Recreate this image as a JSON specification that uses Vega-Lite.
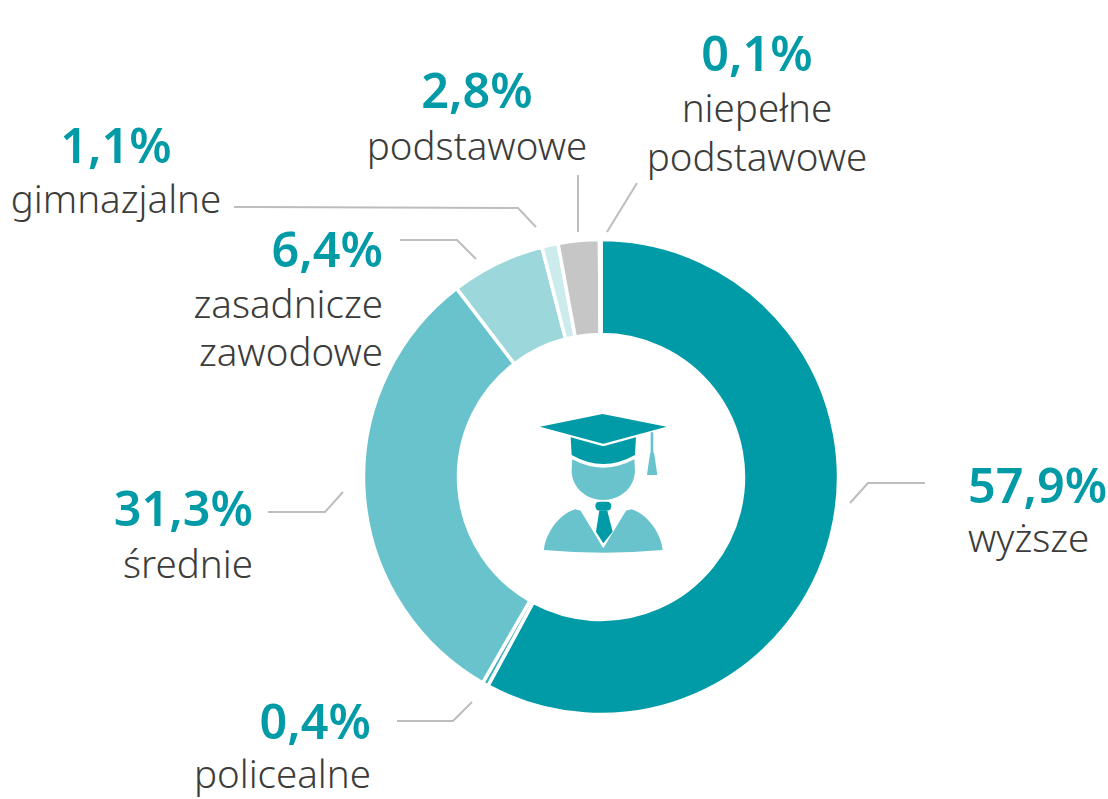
{
"$schema":"https://vega.github.io/schema/vega-lite/v6.json",
"width":1108,"height":799,"padding":0,"autosize":{"type":"none"},"background":"white",
"view":{"stroke":null},
"datasets":{
"shares":[
{"kategoria":"wyższe","udzial":57.9,"kolejnosc":1},
{"kategoria":"policealne","udzial":0.4,"kolejnosc":2},
{"kategoria":"średnie","udzial":31.3,"kolejnosc":3},
{"kategoria":"zasadnicze zawodowe","udzial":6.4,"kolejnosc":4},
{"kategoria":"gimnazjalne","udzial":1.1,"kolejnosc":5},
{"kategoria":"podstawowe","udzial":2.8,"kolejnosc":6},
{"kategoria":"niepełne podstawowe","udzial":0.1,"kolejnosc":7}],
"labels":[
{"t":"57,9%","k":"p","a":"start","px":968,"py":503},
{"t":"wyższe","k":"n","a":"start","px":968,"py":552},
{"t":"31,3%","k":"p","a":"end","px":253,"py":526},
{"t":"średnie","k":"n","a":"end","px":253,"py":578},
{"t":"0,4%","k":"p","a":"end","px":371,"py":739},
{"t":"policealne","k":"n","a":"end","px":371,"py":788},
{"t":"6,4%","k":"p","a":"end","px":383,"py":267},
{"t":"zasadnicze","k":"n","a":"end","px":383,"py":318},
{"t":"zawodowe","k":"n","a":"end","px":383,"py":366},
{"t":"1,1%","k":"p","a":"middle","px":116,"py":163},
{"t":"gimnazjalne","k":"n","a":"middle","px":116,"py":213},
{"t":"2,8%","k":"p","a":"middle","px":477,"py":108},
{"t":"podstawowe","k":"n","a":"middle","px":477,"py":160},
{"t":"0,1%","k":"p","a":"middle","px":757,"py":71},
{"t":"niepełne","k":"n","a":"middle","px":757,"py":122},
{"t":"podstawowe","k":"n","a":"middle","px":757,"py":171}],
"leaders":[
{"g":"a","o":1,"px":850,"py":503},{"g":"a","o":2,"px":868,"py":483},{"g":"a","o":3,"px":925,"py":483},
{"g":"b","o":1,"px":268,"py":512},{"g":"b","o":2,"px":325,"py":512},{"g":"b","o":3,"px":343,"py":492},
{"g":"c","o":1,"px":397,"py":721},{"g":"c","o":2,"px":453,"py":721},{"g":"c","o":3,"px":472,"py":702},
{"g":"d","o":1,"px":400,"py":240},{"g":"d","o":2,"px":457,"py":240},{"g":"d","o":3,"px":476,"py":259},
{"g":"e","o":1,"px":234,"py":207},{"g":"e","o":2,"px":518,"py":208},{"g":"e","o":3,"px":536,"py":227},
{"g":"f","o":1,"px":578,"py":175},{"g":"f","o":2,"px":578,"py":232},
{"g":"h","o":1,"px":637,"py":183},{"g":"h","o":2,"px":607,"py":232}],
"icon":[
{"part":"czapka","c":"#009BA7"},{"part":"denko","c":"#009BA7"},{"part":"krawat","c":"#009BA7"},{"part":"wezel","c":"#009BA7"},
{"part":"glowa","c":"#69C3CD"},{"part":"chwost","c":"#69C3CD"},{"part":"ramiona","c":"#69C3CD"}]
},
"layer":[
{"data":{"name":"shares"},
 "mark":{"type":"arc","radius":237.5,"innerRadius":142.5,"stroke":"white","strokeWidth":3.5},
 "encoding":{
  "x":{"datum":601,"type":"quantitative","scale":{"domain":[0,1108],"range":[0,1108]},"axis":null},
  "y":{"datum":477,"type":"quantitative","scale":{"domain":[0,799],"range":[0,799]},"axis":null},
  "theta":{"field":"udzial","type":"quantitative","stack":true},
  "order":{"field":"kolejnosc"},
  "color":{"field":"kategoria","type":"nominal","legend":null,"scale":{
   "domain":["wyższe","policealne","średnie","zasadnicze zawodowe","gimnazjalne","podstawowe","niepełne podstawowe"],
   "range":["#009BA7","#3FB0BB","#69C3CD","#9CD8DB","#CBEBED","#C6C6C6","#C6C6C6"]}}
 }},
{"data":{"name":"leaders"},
 "mark":{"type":"line","color":"#BDBDBD","strokeWidth":2},
 "encoding":{
  "x":{"field":"px","type":"quantitative","scale":{"domain":[0,1108],"range":[0,1108]},"axis":null},
  "y":{"field":"py","type":"quantitative","scale":{"domain":[0,799],"range":[0,799]},"axis":null},
  "detail":{"field":"g"},"order":{"field":"o"}}},
{"data":{"name":"icon"},
 "mark":{"type":"point","filled":true,"size":17778,"opacity":1,"strokeWidth":0},
 "encoding":{
  "x":{"datum":603.3,"type":"quantitative","scale":{"domain":[0,1108],"range":[0,1108]},"axis":null},
  "y":{"datum":483.3,"type":"quantitative","scale":{"domain":[0,799],"range":[0,799]},"axis":null},
  "color":{"field":"c","type":"nominal","scale":null},
  "shape":{"field":"part","type":"nominal","legend":null,"scale":{
   "domain":["czapka","denko","krawat","wezel","glowa","chwost","ramiona"],
   "range":[
    "M-.95,-.85 L-.01,-1.04 L.95,-.85 L.03,-.6 Q0,-.59 -.03,-.6 Z",
    "M-.49,-.69 L-.03,-.565 Q0,-.555 .03,-.565 L.49,-.69 L.475,-.425 Q0,-.155 -.475,-.425 Z",
    "M-.06,.41 L.06,.41 L.14,.725 L0,.9 L-.11,.725 Z",
    "M-.05,.275 L.05,.275 Q.12,.275 .12,.34 Q.12,.41 .05,.41 L-.05,.41 Q-.12,.41 -.12,.34 Q-.12,.275 -.05,.275 Z",
    "M-.465,-.36 Q0,-.11 .465,-.36 L.475,-.2 C.475,.07 .25,.25 0,.25 C-.25,.25 -.475,.07 -.475,-.2 Z",
    "M.71,-.765 L.75,-.765 L.75,-.47 L.765,-.44 L.81,-.125 L.655,-.125 L.7,-.44 L.71,-.47 Z",
    "M-.89,1 C-.87,.75 -.65,.45 -.42,.39 L-.34,.41 L0,.975 L.34,.41 L.42,.39 C.65,.45 .87,.75 .89,1 Q0,1.08 -.89,1 Z"]}}}},
{"data":{"name":"labels"},"transform":[{"filter":"datum.k=='p' && datum.a=='start'"}],
 "mark":{"type":"text","align":"left","baseline":"alphabetic","font":"Noto Sans","fontWeight":600,"fontSize":48.5,"color":"#009BA7"},
 "encoding":{"x":{"field":"px","type":"quantitative","scale":{"domain":[0,1108],"range":[0,1108]},"axis":null},"y":{"field":"py","type":"quantitative","scale":{"domain":[0,799],"range":[0,799]},"axis":null},"text":{"field":"t"}}},
{"data":{"name":"labels"},"transform":[{"filter":"datum.k=='p' && datum.a=='end'"}],
 "mark":{"type":"text","align":"right","baseline":"alphabetic","font":"Noto Sans","fontWeight":600,"fontSize":48.5,"color":"#009BA7"},
 "encoding":{"x":{"field":"px","type":"quantitative","scale":{"domain":[0,1108],"range":[0,1108]},"axis":null},"y":{"field":"py","type":"quantitative","scale":{"domain":[0,799],"range":[0,799]},"axis":null},"text":{"field":"t"}}},
{"data":{"name":"labels"},"transform":[{"filter":"datum.k=='p' && datum.a=='middle'"}],
 "mark":{"type":"text","align":"center","baseline":"alphabetic","font":"Noto Sans","fontWeight":600,"fontSize":48.5,"color":"#009BA7"},
 "encoding":{"x":{"field":"px","type":"quantitative","scale":{"domain":[0,1108],"range":[0,1108]},"axis":null},"y":{"field":"py","type":"quantitative","scale":{"domain":[0,799],"range":[0,799]},"axis":null},"text":{"field":"t"}}},
{"data":{"name":"labels"},"transform":[{"filter":"datum.k=='n' && datum.a=='start'"}],
 "mark":{"type":"text","align":"left","baseline":"alphabetic","font":"Noto Sans","fontWeight":300,"fontSize":38.5,"color":"#3C3C3B"},
 "encoding":{"x":{"field":"px","type":"quantitative","scale":{"domain":[0,1108],"range":[0,1108]},"axis":null},"y":{"field":"py","type":"quantitative","scale":{"domain":[0,799],"range":[0,799]},"axis":null},"text":{"field":"t"}}},
{"data":{"name":"labels"},"transform":[{"filter":"datum.k=='n' && datum.a=='end'"}],
 "mark":{"type":"text","align":"right","baseline":"alphabetic","font":"Noto Sans","fontWeight":300,"fontSize":38.5,"color":"#3C3C3B"},
 "encoding":{"x":{"field":"px","type":"quantitative","scale":{"domain":[0,1108],"range":[0,1108]},"axis":null},"y":{"field":"py","type":"quantitative","scale":{"domain":[0,799],"range":[0,799]},"axis":null},"text":{"field":"t"}}},
{"data":{"name":"labels"},"transform":[{"filter":"datum.k=='n' && datum.a=='middle'"}],
 "mark":{"type":"text","align":"center","baseline":"alphabetic","font":"Noto Sans","fontWeight":300,"fontSize":38.5,"color":"#3C3C3B"},
 "encoding":{"x":{"field":"px","type":"quantitative","scale":{"domain":[0,1108],"range":[0,1108]},"axis":null},"y":{"field":"py","type":"quantitative","scale":{"domain":[0,799],"range":[0,799]},"axis":null},"text":{"field":"t"}}}
]
}
